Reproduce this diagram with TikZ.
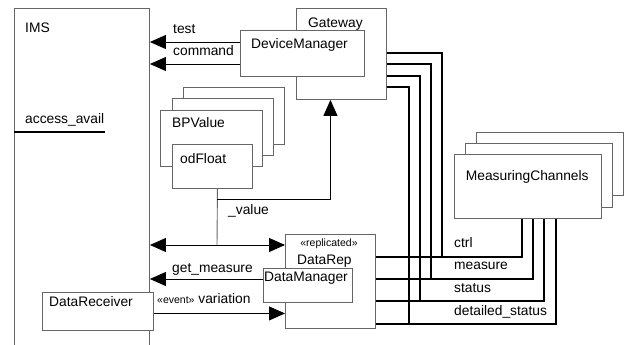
\documentclass[tikz,border=0pt]{standalone}
\usepackage{fontspec}
\setmainfont{Liberation Sans}
\usetikzlibrary{arrows.meta}
\begin{document}
\begin{tikzpicture}[x=1pt,y=-1pt,
  box/.style={draw=black!60, line width=0.9pt, fill=white, inner sep=0pt, anchor=north west},
  lbl/.style={anchor=base west, inner sep=0pt, font=\fontsize{13.8}{16}\selectfont},
  small/.style={font=\fontsize{10.5}{12}\selectfont},
  sig/.style={line width=2.7pt, black},
  tri/.tip={Triangle[length=16pt,width=14pt]},
  arr/.style={line width=0.9pt, black, -tri},
  arrb/.style={line width=0.9pt, black, tri-tri},
  conn/.style={line width=0.9pt, black!60}]
\useasboundingbox (0,0) rectangle (624,345);
\clip (0,0) rectangle (624,345);
% boxes
\node[box, minimum width=135pt, minimum height=400pt] (ims) at (14,8) {};
\node[box, minimum width=90pt, minimum height=91pt] (gateway) at (296,8) {};
\node[box, minimum width=124pt, minimum height=46pt] (devmgr) at (240,30) {};
\node[box, minimum width=101pt, minimum height=57pt] (bp3) at (183,87) {};
\node[box, minimum width=101pt, minimum height=57pt] (bp2) at (172,98) {};
\node[box, minimum width=102pt, minimum height=56pt] (bp1) at (160,110) {};
\node[box, minimum width=80pt, minimum height=44pt] (odfloat) at (172,144) {};
\node[box, minimum width=147pt, minimum height=63pt] (mc3) at (476,132) {};
\node[box, minimum width=147pt, minimum height=64pt] (mc2) at (465,143) {};
\node[box, minimum width=147pt, minimum height=64pt] (mc1) at (454,154) {};
\node[box, minimum width=90pt, minimum height=94pt] (datarep) at (285,234) {};
\node[box, minimum width=89pt, minimum height=34pt] (datamgr) at (263,268) {};
\node[box, minimum width=111pt, minimum height=38pt] (datarecv) at (42,292) {};
% access_avail bar
\coordinate (aa) at (105,132);
\draw[sig] (aa -| ims.west) -- (aa);
% texts
\node[lbl] at (25,33) {IMS};
\node[lbl] at (25,123) {access\_avail};
\node[lbl] at (173,34) {test};
\node[lbl] at (173,56) {command};
\node[lbl] at (308,27.5) {Gateway};
\node[lbl] at (251,49) {DeviceManager};
\node[lbl] at (172,128) {BPValue};
\node[lbl] at (180,163) {odFloat};
\node[lbl] at (228,214) {\_value};
\node[lbl, small, anchor=base] at (329,246) {«replicated»};
\node[lbl] at (297,264) {DataRep};
\node[lbl] at (264,281.5) {DataManager};
\node[lbl] at (172,272) {get\_measure};
\node[lbl] at (157,303.5) {{\fontsize{10.5}{12}\selectfont «event»} variation};
\node[lbl] at (49,306.7) {DataReceiver};
\node[lbl] at (465.7,180.7) {MeasuringChannels};
\node[lbl] at (454,247.7) {ctrl};
\node[lbl] at (454,269.3) {measure};
\node[lbl] at (454,292.7) {status};
\node[lbl] at (454,315) {detailed\_status};
% thin arrows
\coordinate (ttest) at ([yshift=-12pt]devmgr.north west);
\coordinate (tcmd) at ([yshift=-34pt]devmgr.north west);
\draw[arr] (ttest) -- (ttest -| ims.east);
\draw[arr] (tcmd) -- (tcmd -| ims.east);
\coordinate (vtop) at ([xshift=5pt]odfloat.south);
\coordinate (vmid) at (217,199);
\coordinate (vbot) at (217,245);
\draw[conn] (vtop) -- (vbot);
\draw[arr] (vmid) -| ([xshift=-11pt]gateway.south);
\draw[arrb] (vbot -| ims.east) -- (vbot -| datarep.west);
\coordinate (gm) at ([yshift=-11pt]datamgr.north west);
\draw[arr] (gm) -- (gm -| ims.east);
\coordinate (ev) at ([yshift=-2pt]datarecv.east);
\draw[arr] (ev) -- (ev -| datarep.west);
% signals
\coordinate (jc) at (442,257);
\coordinate (jm) at (431,279);
\coordinate (js) at (420,301);
\coordinate (jd) at (409,324);
\draw[sig] ([yshift=-45pt]gateway.north east) -| (jc);
\draw[sig] ([yshift=-56pt]gateway.north east) -| (jm);
\draw[sig] ([yshift=-68pt]gateway.north east) -| (js);
\draw[sig] ([yshift=-79pt]gateway.north east) -| (jd);
\draw[sig] ([yshift=-23pt]datarep.north east) -- (jc) -| ([xshift=68pt]mc1.south west);
\draw[sig] ([yshift=-45pt]datarep.north east) -- (jm) -| ([xshift=79pt]mc1.south west);
\draw[sig] ([yshift=-67pt]datarep.north east) -- (js) -| ([xshift=90pt]mc1.south west);
\draw[sig] ([yshift=-90pt]datarep.north east) -- (jd) -| ([xshift=102pt]mc1.south west);
\end{tikzpicture}
\end{document}
